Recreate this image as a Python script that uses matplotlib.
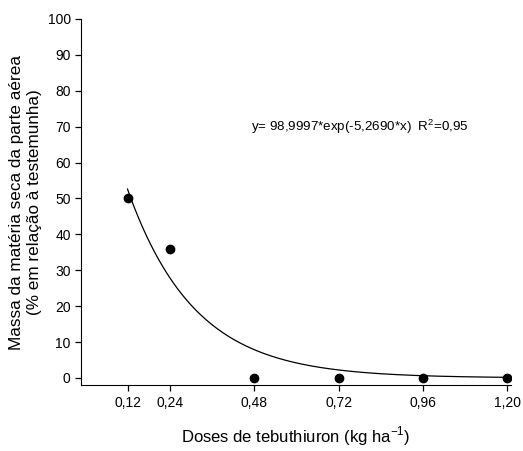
import numpy as np
import matplotlib
matplotlib.use("Agg")
import matplotlib.pyplot as plt

plt.rcParams['font.family'] = ['Liberation Sans', 'DejaVu Sans']

# dados observados
doses = [0.12, 0.24, 0.48, 0.72, 0.96, 1.20]
massa = [50, 36, 0, 0, 0, 0]
tick_labels = ['0,12', '0,24', '0,48', '0,72', '0,96', '1,20']

# modelo ajustado: y = a*exp(-b*x)
a_coef = 98.9997
b_coef = 5.2690

fig = plt.figure(figsize=(5.23, 4.51), dpi=100)
ax = fig.add_axes([0.155, 0.146, 0.822, 0.812])

xfit = np.linspace(doses[0], doses[-1], 200)
ax.plot(xfit, a_coef * np.exp(-b_coef * xfit), color='black', linewidth=0.9)
ax.plot(doses, massa, 'o', color='black', markersize=6)

ax.set_xlim(-0.012, 1.21)
ax.set_ylim(-2, 100)
ax.set_xticks(doses)
ax.set_xticklabels(tick_labels)
ax.set_yticks(range(0, 101, 10))

ax.spines['top'].set_visible(False)
ax.spines['right'].set_visible(False)
ax.spines['left'].set_bounds(-2, 100)
ax.tick_params(direction='out', length=4, width=0.9, labelsize=10)

ax.text(0.47, 70, 'y= 98,9997*exp(-5,2690*x)  R$^\\mathregular{2}$=0,95', fontsize=9.6,
        ha='left', va='center')

ax.set_xlabel('Doses de tebuthiuron (kg ha$^{\\mathregular{-1}}$)', fontsize=12, labelpad=11)
ax.set_ylabel('Massa da matéria seca da parte aérea\n(% em relação à testemunha)',
              fontsize=12.3, labelpad=4, linespacing=1.25)

fig.savefig('out.png', dpi=100)
